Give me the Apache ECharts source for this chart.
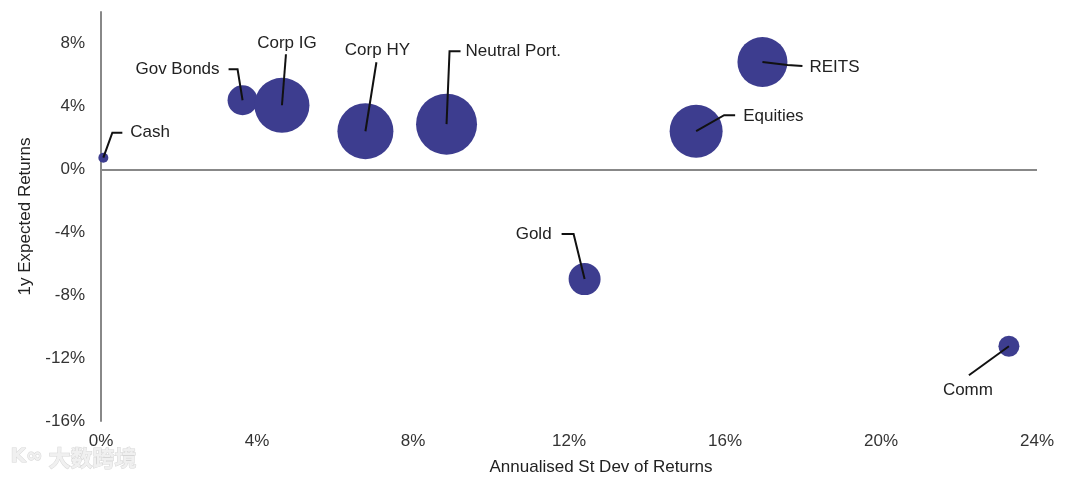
<!DOCTYPE html>
<html>
<head>
    <meta charset="utf-8" />
    <title>Risk / return bubbles</title>
    <script src="https://cdnjs.cloudflare.com/ajax/libs/echarts/6.0.0/echarts.min.js"></script>
    <style>
        body, html {
            margin: 0;
            padding: 0;
            background: #fff;
        }
        #chart {
            width: 1080px;
            height: 481px;
        }
    </style>
</head>
<body>
<div id="chart"></div>

<script type="text/javascript">
    // 数据
    var assets = ['Cash', 'Gov Bonds', 'Corp IG', 'Corp HY', 'Neutral Port.', 'Equities', 'REITS', 'Gold', 'Comm'];
    var stdDev = [0.06, 3.63, 4.64, 6.78, 8.86, 15.26, 16.96, 12.4, 23.28];   // x, %
    var expRet = [0.74, 4.39, 4.07, 2.42, 2.87, 2.42, 6.82, -6.98, -11.25]; // y, %
    var bubble = [10, 30, 55, 56, 61, 53, 50, 32, 21];                     // bubble size
    var xTicks = [0, 4, 8, 12, 16, 20, 24];
    var yTicks = [-16, -12, -8, -4, 0, 4, 8];

    // 标签引线的像素偏移 (相对气泡中心)
    var callouts = {
        'Cash':          { line: [[0, 0], [9, -25], [19, -25]], text: [27, -25], align: 'left' },
        'Gov Bonds':     { line: [[0, 0], [-5, -31], [-14, -31]], text: [-23, -31], align: 'right' },
        'Corp IG':       { line: [[0, 0], [4, -51]], text: [5, -62], align: 'center' },
        'Corp HY':       { line: [[0, 0], [11, -69]], text: [12, -81], align: 'center' },
        'Neutral Port.': { line: [[0, 0], [3, -73], [14, -73]], text: [19, -73], align: 'left' },
        'Equities':      { line: [[0, 0], [28, -16], [39, -16]], text: [47, -15], align: 'left' },
        'REITS':         { line: [[0, 0], [25, 3], [40, 4]], text: [47, 5], align: 'left' },
        'Gold':          { line: [[0, 0], [-11, -45], [-23, -45]], text: [-33, -45], align: 'right' },
        'Comm':          { line: [[0, 0], [-40, 29]], text: [-41, 44], align: 'center' }
    };

    var font = "'Liberation Sans', Arial, sans-serif";
    var points = assets.map(function (name, i) {
        return [stdDev[i], expRet[i], bubble[i], name];
    });

    var chart = echarts.init(document.getElementById('chart'));
    var option = {
        animation: false,
        grid: {
            left: 101,
            right: 43,
            top: 12,
            bottom: 58
        },
        xAxis: {
            type: 'value',
            min: xTicks[0],
            max: xTicks[xTicks.length - 1],
            interval: 4,
            name: 'Annualised St Dev of Returns',
            nameLocation: 'middle',
            nameGap: 38,
            nameTextStyle: { fontFamily: font, fontSize: 17, color: '#222', padding: [0, 0, 0, 64] },
            axisLine: { show: false },
            axisTick: { show: false },
            splitLine: { show: false },
            axisLabel: {
                fontFamily: font,
                fontSize: 17,
                color: '#333',
                margin: 12,
                formatter: '{value}%'
            }
        },
        yAxis: {
            type: 'value',
            min: yTicks[0],
            max: 10,
            interval: 4,
            name: '1y Expected Returns',
            nameLocation: 'middle',
            nameGap: 67,
            nameTextStyle: { fontFamily: font, fontSize: 17, color: '#222' },
            axisLine: { show: true, onZero: false, lineStyle: { color: '#888', width: 2 } },
            axisTick: { show: false },
            splitLine: { show: false },
            axisLabel: {
                fontFamily: font,
                fontSize: 17,
                color: '#333',
                margin: 16,
                showMaxLabel: false,
                formatter: function (v) { return yTicks.indexOf(v) >= 0 ? v + '%' : ''; }
            }
        },
        series: [
            {
                type: 'scatter',
                data: points,
                symbolSize: function (d) { return d[2]; },
                itemStyle: { color: '#3d3d8f', opacity: 1 },
                markLine: {
                    silent: true,
                    symbol: 'none',
                    label: { show: false },
                    lineStyle: { color: '#888', width: 2, type: 'solid' },
                    data: [{ yAxis: 0 }]
                },
                z: 2
            },
            {
                type: 'custom',
                data: points,
                z: 3,
                renderItem: function (params, api) {
                    var c = api.coord([api.value(0), api.value(1)]);
                    var cfg = callouts[assets[params.dataIndex]];
                    var pts = cfg.line.map(function (p) { return [c[0] + p[0], c[1] + p[1]]; });
                    return {
                        type: 'group',
                        children: [
                            {
                                type: 'polyline',
                                shape: { points: pts },
                                style: { stroke: '#111', lineWidth: 2, fill: null }
                            },
                            {
                                type: 'text',
                                style: {
                                    x: c[0] + cfg.text[0],
                                    y: c[1] + cfg.text[1],
                                    text: assets[params.dataIndex],
                                    fill: '#222',
                                    font: '17px ' + font,
                                    align: cfg.align,
                                    verticalAlign: 'middle'
                                }
                            }
                        ]
                    };
                }
            }
        ],
        graphic: [
            {
                type: 'text',
                left: 48,
                top: 446,
                style: {
                    text: '大数跨境',
                    font: 'bold 22px "Noto Sans CJK SC"',
                    fill: '#f0f0f0',
                    stroke: '#d6d6d6',
                    lineWidth: 1
                }
            },
            {
                type: 'text',
                left: 10,
                top: 446,
                style: {
                    text: 'K∞',
                    font: 'bold 20px "DejaVu Sans"',
                    fill: '#f0f0f0',
                    stroke: '#d6d6d6',
                    lineWidth: 1
                }
            }
        ]
    };
    chart.setOption(option);
</script>
</body>
</html>
